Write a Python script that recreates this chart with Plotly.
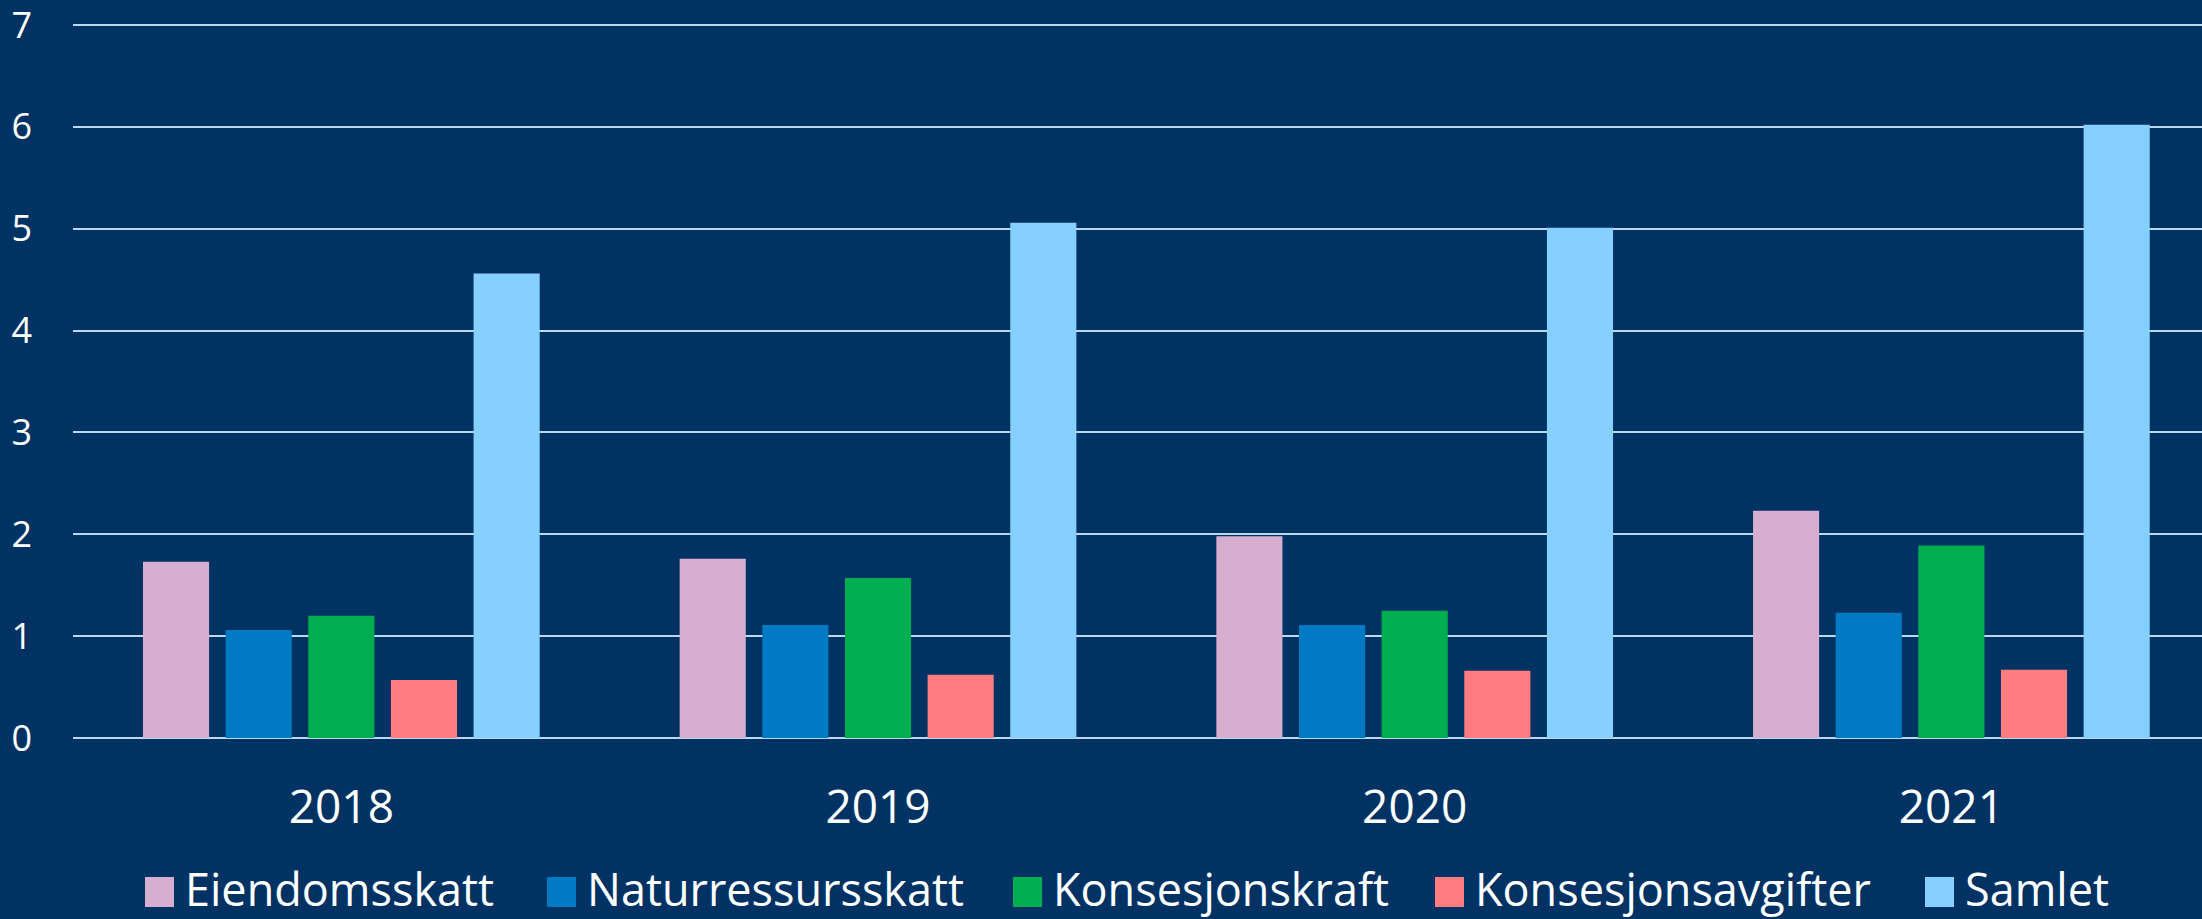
import plotly.graph_objects as go

years = ["2018", "2019", "2020", "2021"]
series_names = ["Eiendomsskatt", "Naturressursskatt", "Konsesjonskraft", "Konsesjonsavgifter", "Samlet"]
eiendomsskatt = [1.73, 1.76, 1.98, 2.23]
naturressursskatt = [1.06, 1.11, 1.11, 1.23]
konsesjonskraft = [1.20, 1.57, 1.25, 1.89]
konsesjonsavgifter = [0.57, 0.62, 0.66, 0.67]
samlet = [4.56, 5.06, 5.01, 6.02]
y_ticks = [0, 1, 2, 3, 4, 5, 6, 7]

colors = ["#D6AECF", "#007BC3", "#00AE50", "#FF7C80", "#85D0FF"]
values = [eiendomsskatt, naturressursskatt, konsesjonskraft, konsesjonsavgifter, samlet]

BG = "#003263"
GRID = "#BDD7EE"

W, H = 2202, 919
ML, MR, MT, MB = 73, 0, 23, 181
PW, PH = W - ML - MR, H - MT - MB


def px_x(p):
    return (p - ML) / PW


def px_y(p):
    return (H - MB - p) / PH


fig = go.Figure()
for name, vals, col in zip(series_names, values, colors):
    fig.add_trace(go.Bar(name=name, x=years, y=vals, marker=dict(color=col, line=dict(width=0))))

# legend drawn as key squares + labels (pixel positions of each entry's key)
legend_keys = [145, 547, 1013, 1435, 1925]
shapes = []
annotations = []
for name, col, kx in zip(series_names, colors, legend_keys):
    shapes.append(dict(type="rect", xref="paper", yref="paper",
                       x0=px_x(kx), x1=px_x(kx + 29), y0=px_y(907), y1=px_y(877),
                       fillcolor=col, line=dict(width=0)))
    annotations.append(dict(xref="paper", yref="paper", x=px_x(kx + 38), y=px_y(888),
                            xanchor="left", yanchor="middle", showarrow=False, text=name,
                            font=dict(family="Open Sans", size=45, color="white")))

fig.update_layout(
    width=W, height=H,
    paper_bgcolor=BG, plot_bgcolor=BG,
    margin=dict(l=ML, r=MR, t=MT, b=MB, pad=0),
    barmode="group", bargap=0.23, bargroupgap=0.2,
    font=dict(family="Open Sans", color="white"),
    showlegend=False,
    shapes=shapes, annotations=annotations,
)
fig.update_xaxes(
    type="category", range=[-0.5, 3.467],
    showgrid=False, showline=False, zeroline=False, ticks="",
    tickfont=dict(family="Open Sans", size=46, color="white"),
    ticklabelstandoff=38,
)
fig.update_yaxes(
    range=[0, 7.02], tickvals=y_ticks, showgrid=True, gridcolor=GRID, gridwidth=2,
    zeroline=True, zerolinecolor=GRID, zerolinewidth=2, showline=False, ticks="",
    tickfont=dict(family="Open Sans", size=36, color="white"),
    ticklabelstandoff=40, ticklabeloverflow="allow",
)

fig.write_html("out.html", config={"displayModeBar": False},
               post_script="document.body.style.margin='0';document.body.style.background='#003263';")
